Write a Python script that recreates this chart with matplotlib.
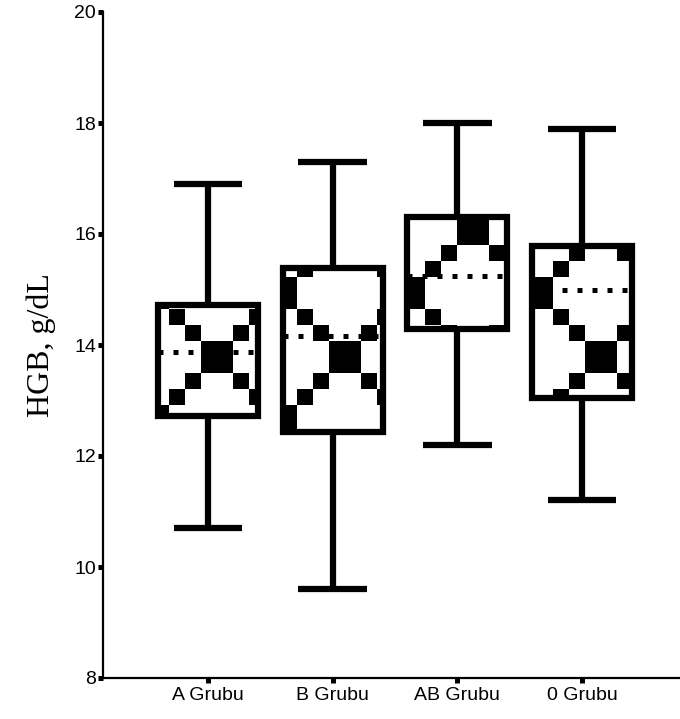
import matplotlib
matplotlib.use("Agg")
import matplotlib.pyplot as plt
import numpy as np

# HGB values per blood group
groups = ["A Grubu", "B Grubu", "AB Grubu", "0 Grubu"]
whis_lo = [10.7, 9.6, 12.2, 11.2]
q1 = [12.72, 12.43, 14.28, 13.05]
med = [13.87, 14.16, 15.24, 14.99]
q3 = [14.72, 15.38, 16.30, 15.78]
whis_hi = [16.9, 17.3, 18.0, 17.9]
yticks = [8, 10, 12, 14, 16, 18, 20]

W, H = 680, 719
fig = plt.figure(figsize=(W / 100, H / 100), dpi=100)
ax = fig.add_axes([103 / W, 1 - 678 / H, 1 - 103 / W, (678 - 12) / H])

stats = []
for i in range(len(groups)):
    stats.append(dict(med=med[i], q1=q1[i], q3=q3[i],
                      whislo=whis_lo[i], whishi=whis_hi[i], fliers=[]))

lw = 4.5
bp = ax.bxp(stats, positions=range(1, 5), widths=0.8, capwidths=0.55,
            patch_artist=True, showfliers=False,
            boxprops=dict(facecolor="none", edgecolor="black", linewidth=lw),
            whiskerprops=dict(color="black", linewidth=lw, solid_capstyle="butt"),
            capprops=dict(color="black", linewidth=lw, solid_capstyle="butt"),
            medianprops=dict(color="black", linewidth=3.6,
                             linestyle=(0, (1, 2)), dash_capstyle="butt"))
for b in bp["boxes"]:
    b.set_zorder(3)
for m in bp["medians"]:
    m.set_zorder(4)

# screen-anchored fill pattern (block + diagonal cells, 128px tile)
cols = np.arange(W)
rows = np.arange(H)
a = ((cols - 217 + 16) // 16) % 8
b = ((rows - 357 + 16) // 16) % 8
A, B = np.meshgrid(a, b)
black = (np.isin(A, [0, 1]) & np.isin(B, [0, 1])) | \
        (np.isin(A, [4, 5]) & np.isin(B, [4, 5])) | \
        ((A == B) & np.isin(A, [2, 3, 6, 7])) | \
        ((A == 2) & (B == 7)) | ((A == 3) & (B == 6)) | \
        ((A == 7) & (B == 2)) | ((A == 6) & (B == 3))
tex = np.where(black, 0.0, 1.0)

for b_patch in bp["boxes"]:
    im = ax.imshow(tex, cmap="gray", vmin=0, vmax=1, extent=(0, 1, 0, 1),
                   transform=fig.transFigure, interpolation="nearest",
                   aspect="auto", zorder=2)
    im.set_clip_path(b_patch)

ax.set_xlim(0.158, 4.786)
ax.set_ylim(8, 20)
ax.set_yticks(yticks)
ax.set_xticks(range(1, 5))
ax.set_xticklabels(groups)

for s in ["top", "right"]:
    ax.spines[s].set_visible(False)
for s in ["left", "bottom"]:
    ax.spines[s].set_linewidth(1.6)

ax.tick_params(axis="both", direction="out", length=3.6, width=3.6, pad=3)
ax.tick_params(axis="y", pad=1.5)
for t in ax.get_yticklabels():
    t.set_fontfamily("Liberation Sans")
    t.set_fontsize(14)
for t in ax.get_xticklabels():
    t.set_fontfamily("Liberation Sans")
    t.set_fontsize(14)

ax.set_ylabel("HGB, g/dL", fontfamily="Liberation Serif", fontsize=23)
ax.yaxis.set_label_coords(-0.081, 0.5)

fig.savefig("out.png", dpi=100)
